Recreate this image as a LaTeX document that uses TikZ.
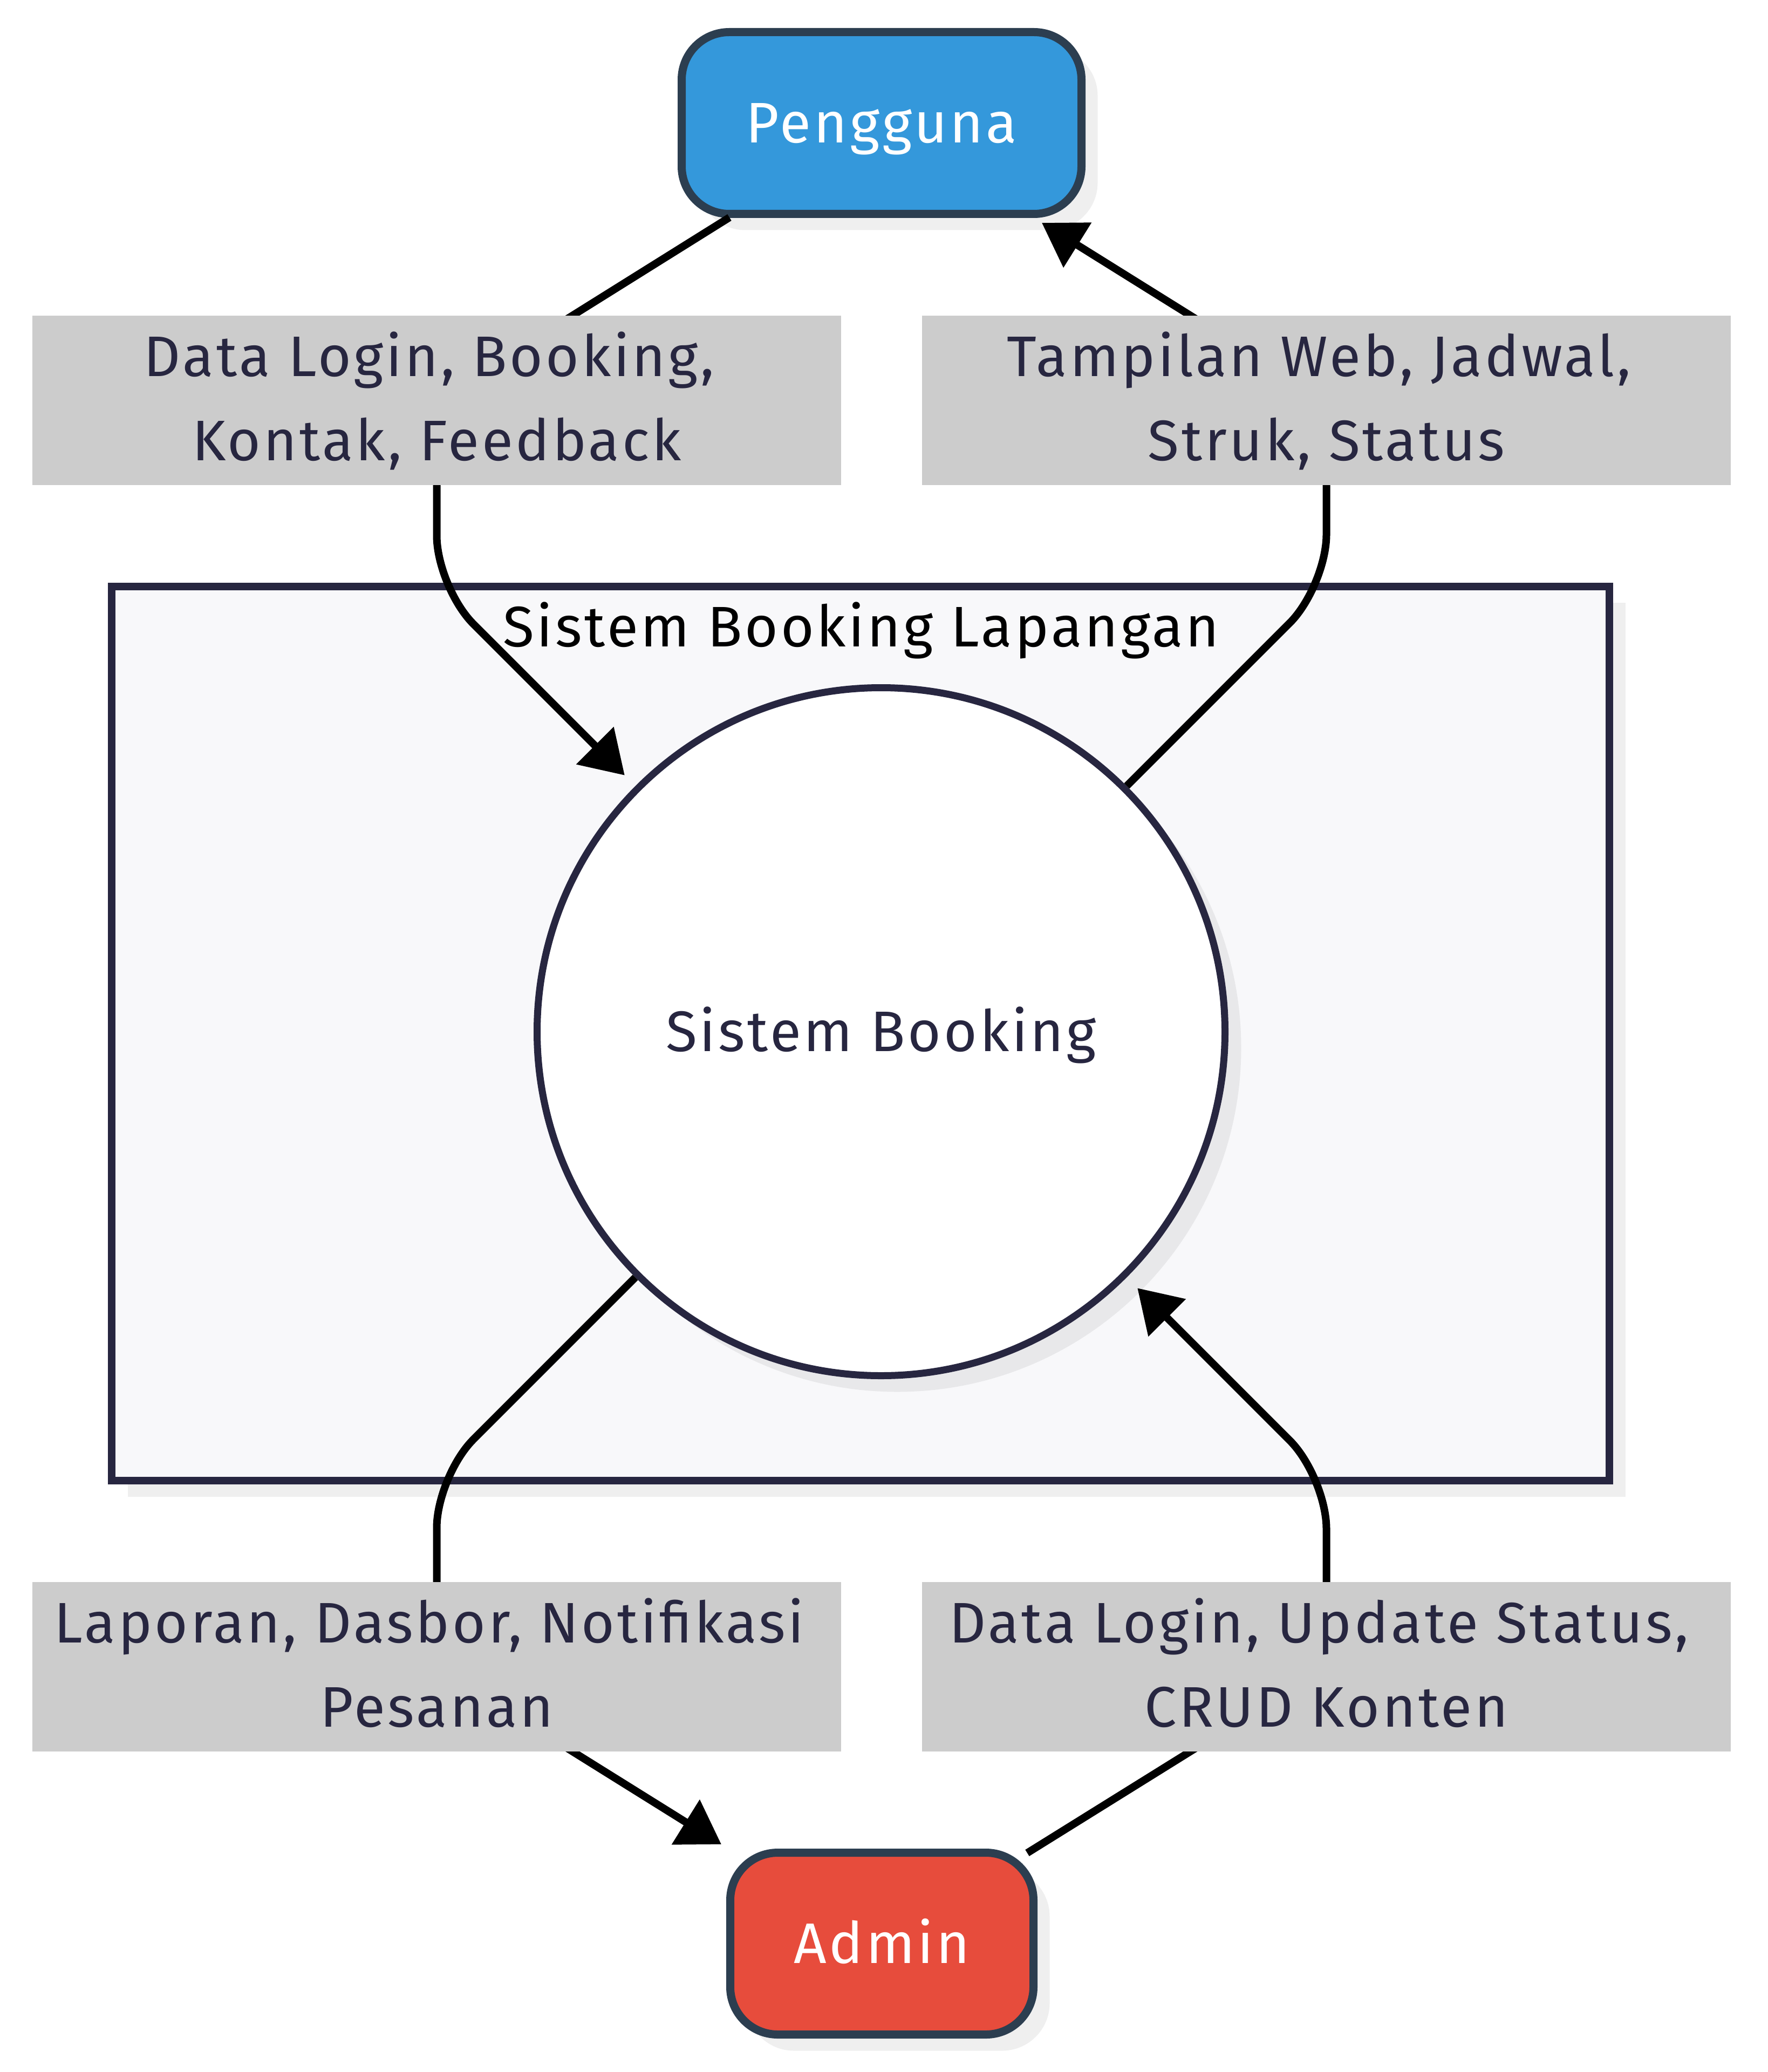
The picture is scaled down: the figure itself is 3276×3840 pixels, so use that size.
\documentclass[tikz,border=0pt]{standalone}
\usepackage{fontspec}
\setmainfont{Fira Sans}[LetterSpace=4.5]
\usetikzlibrary{arrows.meta,calc,shadows}
\definecolor{pblue}{HTML}{3498DB}
\definecolor{ared}{HTML}{E74C3C}
\definecolor{dstroke}{HTML}{2C3E50}
\definecolor{navy}{HTML}{272640}
\definecolor{labelbg}{HTML}{CCCCCC}
\definecolor{sysfill}{HTML}{F8F8FA}
\newcommand{\diagfont}{\fontsize{26.5pt}{39pt}\selectfont}
\newcommand{\trail}{\hspace*{7pt}}
\pgfdeclarelayer{back}
\pgfdeclarelayer{mid}
\pgfsetlayers{back,mid,main}
\tikzset{
  softshadow/.style={drop shadow={shadow xshift=7.5pt, shadow yshift=-7.5pt, fill=black, opacity=0.063}},
  ent/.style={rectangle, rounded corners=22pt, draw=dstroke, line width=3.75pt,
    minimum height=84.25pt, inner sep=0pt, text=white, font=\diagfont,
    text height=18.25pt, text depth=0pt, softshadow},
  proc/.style={circle, draw=navy, fill=white, line width=3.25pt, minimum size=318.75pt,
    inner sep=0pt, text=navy, font=\diagfont, text height=18.25pt, text depth=0pt, softshadow},
  sysbox/.style={rectangle, draw=navy, fill=sysfill, line width=3.5pt,
    minimum width=694pt, minimum height=414.25pt, inner sep=0pt, softshadow},
  systitle/.style={anchor=base, text=black, font=\diagfont, inner sep=0pt},
  flowlabel/.style={rectangle, fill=labelbg, minimum width=374.75pt, minimum height=78.5pt,
    inner sep=0pt, align=center, text=navy, font=\diagfont,
    text height=57.25pt, text depth=1.75pt},
  edge/.style={draw=black, line width=3.5pt, rounded corners=24pt,
    -{Triangle[length=19.5pt,width=23.75pt]}},
}
\begin{document}
\begin{tikzpicture}[x=0.25pt,y=-0.25pt]
\useasboundingbox (0,0) rectangle (3276,3840);
\begin{pgfonlayer}{back}
  \node[sysbox] (sys) at (1595,1915.5) {};
  \node[systitle] (title) at (1596,1198) {Sistem Booking Lapangan};
  \node[proc] (circ) at (1633,1912) {Sistem Booking};
  \node[ent, fill=pblue, minimum width=185.25pt] (peng) at (1634,228) {Pengguna};
  \node[ent, fill=ared, minimum width=140.5pt] (admin) at (1634.5,3602) {Admin};
\end{pgfonlayer}
\node[flowlabel] (l1) at (809.5,742) {Data Login, Booking,\trail\\Kontak, Feedback};
\node[flowlabel] (l2) at (2458.5,742) {Tampilan Web, Jadwal,\trail\\Struk, Status};
\node[flowlabel] (l3) at (809.5,3089) {Laporan, Dasbor, Notifikasi\trail\\Pesanan};
\node[flowlabel] (l4) at (2458.5,3089) {Data Login, Update Status,\trail\\CRUD Konten};
\begin{pgfonlayer}{mid}
  \draw[edge, shorten >=7pt] ($(peng.south west)+(96,-1)$) -- (l1.center) -- (809.5,1088.5) -- (circ.135);
  \draw[edge] (circ.45) -- (2458.5,1086.5) -- (l2.center) -- ($(peng.south east)+(-81,9)$);
  \draw[edge] (circ.225) -- (809.5,2735.5) -- (l3.center) -- ($(admin.north west)+(-9,-8)$);
  \draw[edge, shorten >=7pt] ($(admin.north east)+(-19,8)$) -- (l4.center) -- (2458.5,2737.5) -- (circ.315);
\end{pgfonlayer}
\end{tikzpicture}
\end{document}
